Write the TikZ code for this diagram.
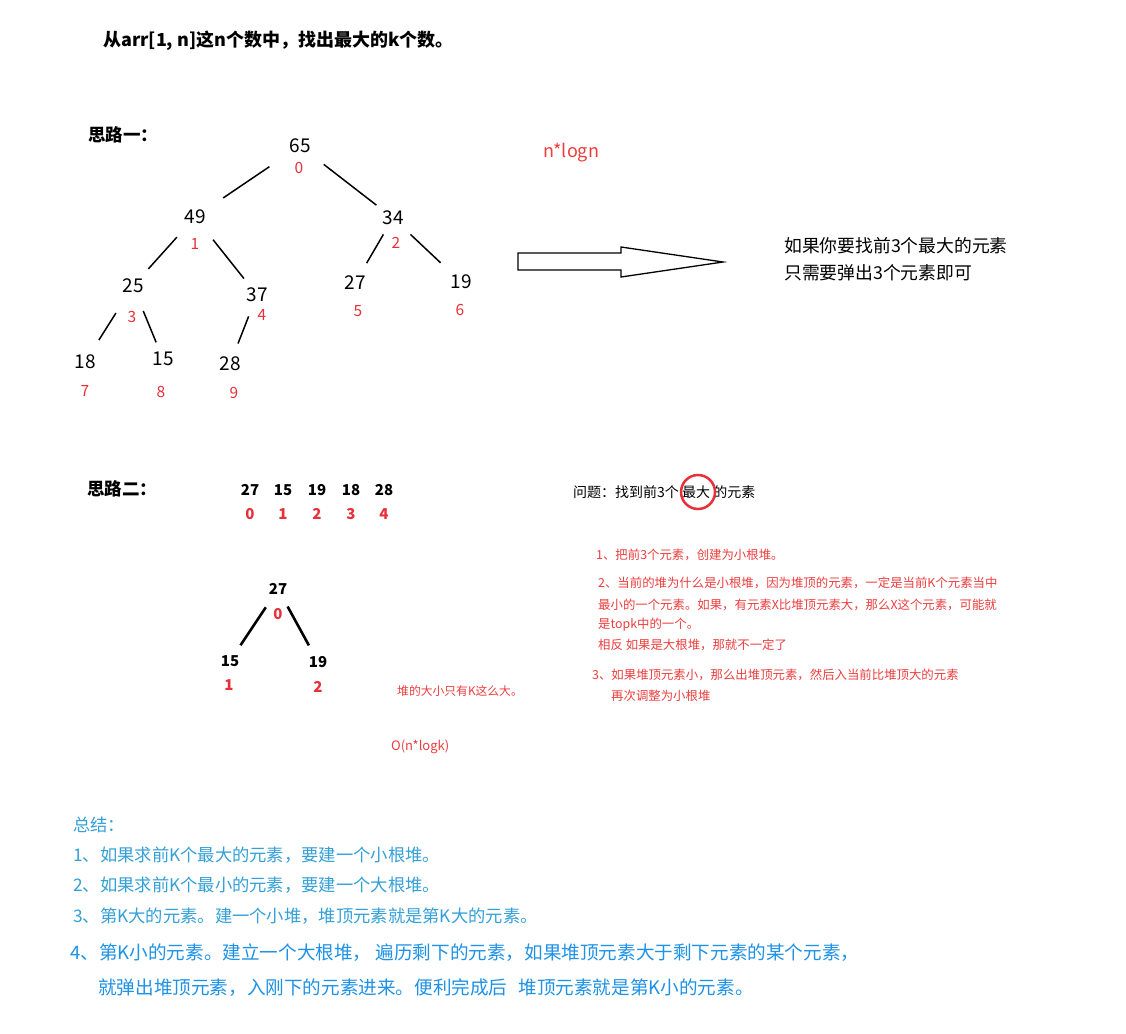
\documentclass[tikz,border=0pt]{standalone}
\usepackage{fontspec}
\setmainfont{Noto Sans CJK SC}
\definecolor{idxred}{RGB}{232,48,58}
\definecolor{notered}{RGB}{236,62,62}
\definecolor{sumblue}{RGB}{52,160,215}
\definecolor{sumblue2}{RGB}{30,146,230}

\begin{document}
\begin{tikzpicture}[x=1pt, y=-1pt]

\tikzset{num/.style = {inner sep=0pt, font=\fontsize{19}{21}\selectfont}}
\tikzset{idx/.style = {inner sep=0pt, text=idxred, font=\fontsize{15.5}{17}\selectfont}}
\tikzset{bnum/.style = {inner sep=0pt, font=\fontsize{15}{18}\selectfont\bfseries}}
\tikzset{bidx/.style = {bnum, text=idxred}}
\tikzset{edge/.style = {line width=1.5pt}}
\tikzset{bedge/.style = {line width=2.6pt}}
\tikzset{txt/.style = {anchor=west, inner sep=0pt}}
\tikzset{head/.style = {txt, font=\fontsize{17.5}{19}\selectfont\bfseries}}
\tikzset{redline/.style = {txt, text=notered, font=\fontsize{12.4}{14}\selectfont}}
\tikzset{sumline/.style = {txt, text=sumblue, font=\fontsize{17.3}{20}\selectfont}}
\tikzset{sumline2/.style = {txt, text=sumblue2, font=\fontsize{18.6}{21}\selectfont}}

\useasboundingbox[fill=white] (0,0) rectangle (1126,1033);

%title
\node[txt, font=\fontsize{18}{22}\selectfont\bfseries] (title) at (103,41) {从arr[1, n]这n个数中，找出最大的k个数。};

%first idea: the whole heap
\node[head] (way1) at (88,135) {思路一：};
\node[num] (n0) at (300,146) {65};
\node[idx] (i0) at (299,168) {0};
\node[num] (n1) at (195,217) {49};
\node[idx] (i1) at (195,244) {1};
\node[num] (n2) at (393,218) {34};
\node[idx] (i2) at (396,243) {2};
\node[num] (n3) at (133,286) {25};
\node[idx] (i3) at (132,317) {3};
\node[num] (n4) at (257,295) {37};
\node[idx] (i4) at (262,315) {4};
\node[num] (n5) at (355,283) {27};
\node[idx] (i5) at (358,311) {5};
\node[num] (n6) at (461,282) {19};
\node[idx] (i6) at (460,310) {6};
\node[num] (n7) at (85,362) {18};
\node[idx] (i7) at (85,391) {7};
\node[num] (n8) at (163,359) {15};
\node[idx] (i8) at (161,392) {8};
\node[num] (n9) at (230,364) {28};
\node[idx] (i9) at (234,393) {9};
%edges
\draw [edge, shorten <=37pt, shorten >=34pt] (n0.center) -- (n1.center);
\draw [edge, shorten <=30pt, shorten >=21pt] (n0.center) -- (n2.center);
\draw [edge, shorten <=27pt, shorten >=23pt] (n1.center) -- (n3.center);
\draw [edge, shorten <=29pt, shorten >=21pt] (n1.center) -- (n4.center);
\draw [edge, shorten <=19pt, shorten >=23pt] (n2.center) -- (n5.center);
\draw [edge, shorten <=24pt, shorten >=28pt] (n2.center) -- (n6.center);
\draw [edge, shorten <=32pt, shorten >=26pt] (n3.center) -- (n7.center);
\draw [edge, shorten <=27pt, shorten >=18pt] (n3.center) -- (n8.center);
\draw [edge, shorten <=23pt, shorten >=22pt] (n4.center) -- (n9.center);

\node[txt, text=notered, font=\fontsize{18}{20}\selectfont] (cost1) at (543,153) {n*logn};
%hollow arrow
\draw [line width=1.3pt] (518,253) -- (621,253) -- (621,247) -- (723,262) -- (621,277) -- (621,270) -- (518,270) -- cycle;
\node[txt, font=\fontsize{17.8}{20}\selectfont] (pop1) at (784,246) {如果你要找前3个最大的元素};
\node[txt, font=\fontsize{17.8}{20}\selectfont] (pop2) at (784,273) {只需要弹出3个元素即可};

%second idea: a heap of size k
\node[head] (way2) at (87,489) {思路二：};
\node[bnum] (a0) at (250,490) {27};
\node[bnum] (a1) at (283,490) {15};
\node[bnum] (a2) at (317,490) {19};
\node[bnum] (a3) at (351,490) {18};
\node[bnum] (a4) at (384,490) {28};
\node[bidx] (j0) at (250,514) {0};
\node[bidx] (j1) at (283,514) {1};
\node[bidx] (j2) at (317,514) {2};
\node[bidx] (j3) at (351,514) {3};
\node[bidx] (j4) at (384,514) {4};

\node[bnum] (m0) at (278,589) {27};
\node[bidx] (k0) at (278,614) {0};
\node[bnum] (m1) at (230,661) {15};
\node[bidx] (k1) at (229,685) {1};
\node[bnum] (m2) at (318,662) {19};
\node[bidx] (k2) at (318,687) {2};
\draw [bedge, shorten <=22pt, shorten >=19pt] (m0.center) -- (m1.center);
\draw [bedge, shorten <=20pt, shorten >=19pt] (m0.center) -- (m2.center);

\node[txt, text=notered, font=\fontsize{11.8}{14}\selectfont] (size) at (397,691) {堆的大小只有K这么大。};
\node[txt, text=notered, font=\fontsize{13}{15}\selectfont] (cost2) at (391,747) {O(n*logk)};

%question and steps
\node[txt, font=\fontsize{14}{16}\selectfont] (ask) at (573,492) {问题：找到前3个 最大 的元素};
\node[circle, draw=idxred, line width=2.5pt, minimum size=34pt, inner sep=0pt] (ring) at (698,492) {};
\node[redline] (s1) at (596,555) {1、把前3个元素，创建为小根堆。};
\node[redline] (s2a) at (598,583) {2、当前的堆为什么是小根堆，因为堆顶的元素，一定是当前K个元素当中};
\node[redline] (s2b) at (598,605) {最小的一个元素。如果，有元素X比堆顶元素大，那么X这个元素，可能就};
\node[redline] (s2c) at (598,625) {是topk中的一个。};
\node[redline] (s2d) at (598,645) {相反 如果是大根堆，那就不一定了};
\node[redline] (s3a) at (592,675) {3、如果堆顶元素小，那么出堆顶元素，然后入当前比堆顶大的元素};
\node[redline] (s3b) at (611,696) {再次调整为小根堆};

%summary
\node[sumline] (sum0) at (73,825) {总结：};
\node[sumline] (sum1) at (73,855) {1、如果求前K个最大的元素，要建一个小根堆。};
\node[sumline] (sum2) at (73,885) {2、如果求前K个最小的元素，要建一个大根堆。};
\node[sumline] (sum3) at (73,916) {3、第K大的元素。建一个小堆，堆顶元素就是第K大的元素。};
\node[sumline2] (sum4) at (70,953) {4、第K小的元素。建立一个大根堆， 遍历剩下的元素，如果堆顶元素大于剩下元素的某个元素，};
\node[sumline2] (sum5) at (98,988) {就弹出堆顶元素，入刚下的元素进来。便利完成后\hspace{0.6em}堆顶元素就是第K小的元素。};

\end{tikzpicture}
\end{document}
